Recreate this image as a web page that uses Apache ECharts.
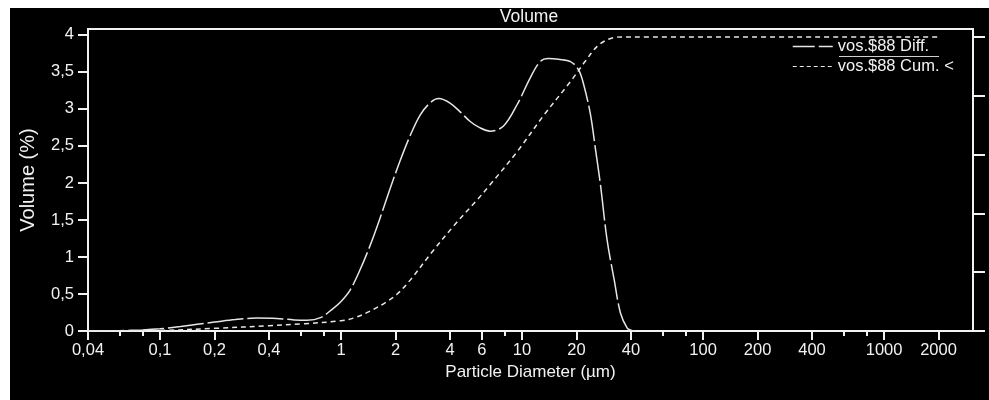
<!DOCTYPE html>
<html>
<head>
<meta charset="utf-8">
<script src="https://cdn.jsdelivr.net/npm/echarts@6/dist/echarts.min.js"></script>
<style>
  html, body { margin: 0; padding: 0; background: #ffffff; }
  #chart { position: absolute; left: 10px; top: 8px; width: 979px; height: 392px; background: #000; }
</style>
</head>
<body>
<div id="chart"></div>
<script>
// Differential volume distribution (particle diameter in µm, volume %)
const diffSizes = [0.04, 0.06, 0.08, 0.1, 0.13, 0.16, 0.2, 0.26, 0.34, 0.44, 0.55, 0.65, 0.77, 0.9, 1.0, 1.12, 1.27, 1.45, 1.64, 1.87, 2.12, 2.41, 2.74, 3.1, 3.46, 4.0, 4.55, 5.17, 5.8, 6.67, 7.9, 9.4, 11.1, 12.6, 14.0, 15.9, 18.5, 20.5, 21.9, 23.9, 25.4, 27.1, 29.5, 32.3, 35.0, 38.1, 40, 42];
const diffValues = [0, 0.005, 0.015, 0.03, 0.06, 0.09, 0.12, 0.155, 0.175, 0.17, 0.15, 0.145, 0.18, 0.3, 0.4, 0.55, 0.82, 1.16, 1.52, 1.93, 2.3, 2.64, 2.92, 3.08, 3.14, 3.08, 2.96, 2.83, 2.75, 2.70, 2.77, 3.06, 3.42, 3.64, 3.68, 3.67, 3.64, 3.53, 3.33, 2.92, 2.47, 1.98, 1.23, 0.69, 0.24, 0.04, 0.01, 0];

// Cumulative undersize (%)
const cumSizes = [0.04, 0.1, 0.2, 0.4, 0.6, 1.0, 1.2, 1.45, 1.75, 2.03, 2.41, 3.15, 4.2, 5.63, 6.67, 9.4, 13.2, 18.5, 22.4, 26.0, 30.0, 35, 40, 2000];
const cumValues = [0, 0.2, 0.9, 1.8, 2.4, 3.5, 4.6, 6.8, 9.6, 12.4, 17.3, 26.5, 35.8, 44.5, 49.8, 61, 73.4, 84.8, 91.8, 96.8, 99.2, 100, 100, 100];

const xMajorTicks = [0.04, 0.1, 0.2, 0.4, 1, 2, 4, 6, 10, 20, 40, 100, 200, 400, 1000, 2000];
const xMinorTicks = [0.06, 0.08, 0.6, 0.8, 8, 60, 80, 600, 800];
const yLeftTicks = [0, 0.5, 1, 1.5, 2, 2.5, 3, 3.5, 4];
const yRightTicks = [0, 20, 40, 60, 80, 100];

const seriesNames = ['vos.$88 Diff.', 'vos.$88 Cum. <'];

const FONT = '"Liberation Sans", Arial, sans-serif';
const FG = '#f2f2f2';
const LINE = '#e6e6e6';
const fmt = v => String(v).replace('.', ',');

const chart = echarts.init(document.getElementById('chart'));
chart.setOption({
  backgroundColor: '#000',
  animation: false,
  title: {
    text: 'Volume',
    left: 519, top: 0, padding: 0,
    textAlign: 'center',
    textStyle: { color: FG, fontFamily: FONT, fontSize: 17.5, fontWeight: 'normal' }
  },
  legend: {
    orient: 'vertical',
    left: 782, top: 30, padding: 0,
    itemWidth: 40, itemHeight: 14, itemGap: 3,
    itemStyle: { opacity: 0 },
    data: [
      { name: seriesNames[0], lineStyle: { type: [22, 4], width: 1.5, color: LINE } },
      { name: seriesNames[1], lineStyle: { type: [4, 3], width: 1.2, color: LINE } }
    ],
    textStyle: { color: FG, fontFamily: FONT, fontSize: 16.5, lineHeight: 16 }
  },
  graphic: [{
    type: 'line',
    shape: { x1: 829, y1: 48.5, x2: 929, y2: 48.5 },
    style: { stroke: '#cfcfcf', lineWidth: 1 }
  }],
  grid: {
    left: 77, right: 16, top: 21, bottom: 69,
    show: true, borderColor: FG, borderWidth: 2, backgroundColor: 'transparent'
  },
  xAxis: [{
    type: 'log', position: 'bottom',
    min: 0.04, max: 3100,
    name: 'Particle Diameter (µm)', nameLocation: 'middle', nameGap: 32,
    nameTextStyle: { color: FG, fontFamily: FONT, fontSize: 17 },
    axisLine: { show: true, lineStyle: { color: FG, width: 2 } },
    axisTick: { show: true, customValues: xMajorTicks, length: 9, lineStyle: { color: FG, width: 2 } },
    axisLabel: { customValues: xMajorTicks, color: FG, fontFamily: FONT, fontSize: 16.5, margin: 11, formatter: fmt },
    splitLine: { show: false }, minorTick: { show: false }
  }, {
    type: 'log', position: 'bottom',
    min: 0.04, max: 3100,
    axisLine: { show: false },
    axisTick: { show: true, customValues: xMinorTicks, length: 5, lineStyle: { color: FG, width: 2 } },
    axisLabel: { show: false },
    splitLine: { show: false }
  }],
  yAxis: [{
    type: 'value', position: 'left',
    min: 0, max: 4.08,
    name: 'Volume (%)', nameLocation: 'middle', nameGap: 50, nameRotate: 90,
    nameTextStyle: { color: FG, fontFamily: FONT, fontSize: 20 },
    axisLine: { show: true, lineStyle: { color: FG, width: 2 } },
    axisTick: { show: true, customValues: yLeftTicks, length: 10, lineStyle: { color: FG, width: 2 } },
    axisLabel: { customValues: yLeftTicks, color: FG, fontFamily: FONT, fontSize: 16.5, margin: 14, formatter: fmt },
    splitLine: { show: false }
  }, {
    type: 'value', position: 'right',
    min: 0, max: 102.7,
    axisLine: { show: true, lineStyle: { color: FG, width: 2 } },
    axisTick: { show: true, customValues: yRightTicks, length: 12, lineStyle: { color: FG, width: 2 } },
    axisLabel: { show: false },
    splitLine: { show: false }
  }],
  series: [{
    name: seriesNames[0],
    type: 'line', xAxisIndex: 0, yAxisIndex: 0,
    smooth: 0.35, symbol: 'none',
    lineStyle: { color: LINE, width: 1.5, type: [36, 4] },
    itemStyle: { color: LINE },
    data: diffSizes.map((s, i) => [s, diffValues[i]])
  }, {
    name: seriesNames[1],
    type: 'line', xAxisIndex: 0, yAxisIndex: 1,
    smooth: 0.35, symbol: 'none',
    lineStyle: { color: LINE, width: 1.5, type: [5, 4] },
    itemStyle: { color: LINE },
    data: cumSizes.map((s, i) => [s, cumValues[i]])
  }]
});
</script>
</body>
</html>
